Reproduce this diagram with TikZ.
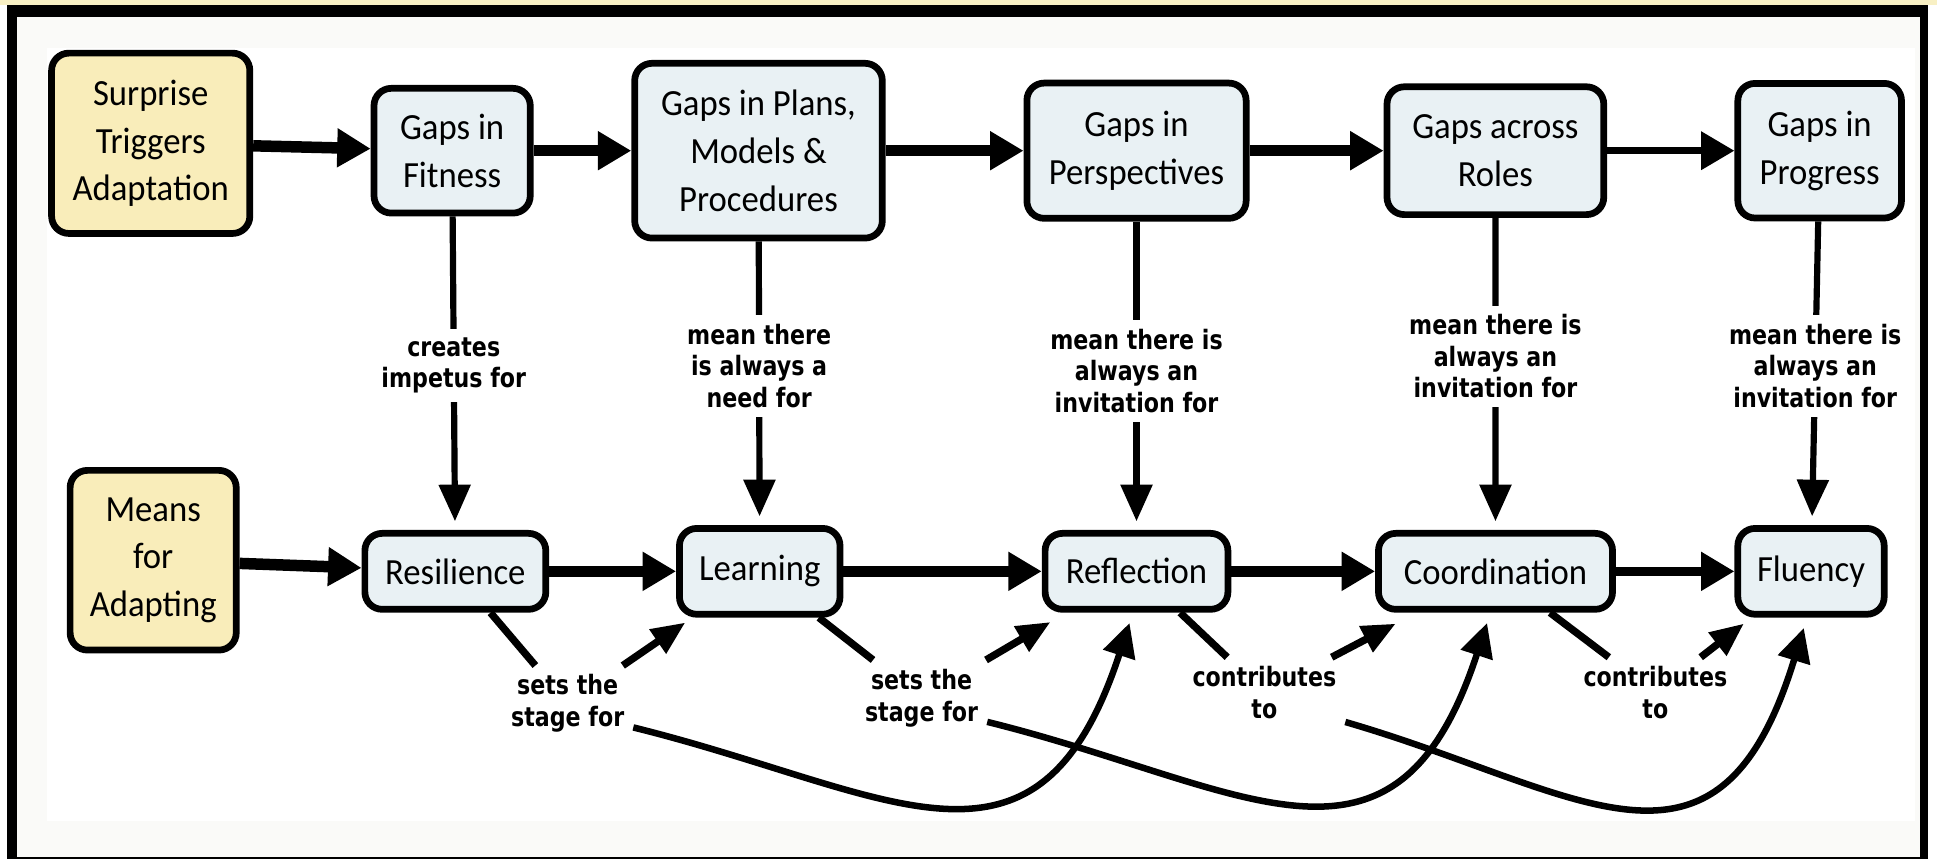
\documentclass[tikz,border=0pt]{standalone}
\usepackage{fontspec}
\setmainfont{Carlito}[FakeStretch=0.94]
\newfontfamily\labelfamily{DejaVu Sans}[FakeStretch=0.83]
\usetikzlibrary{arrows.meta}

\definecolor{boxyellow}{RGB}{249,237,186}
\definecolor{boxblue}{RGB}{233,241,244}
\definecolor{paper}{RGB}{250,250,248}
\definecolor{topstrip}{RGB}{248,240,196}

\begin{document}
\begin{tikzpicture}[x=0.02cm, y=-0.02cm,
  cbox/.style={draw=black, line width=3.1pt, rounded corners=0.28cm, fill=boxblue,
    align=center, inner sep=0pt, font=\fontsize{17}{22}\selectfont},
  srcbox/.style={cbox, fill=boxyellow},
  lab/.style={align=center, fill=white, inner sep=4pt,
    font=\labelfamily\bfseries\fontsize{12.3}{14.6}\selectfont},
  flow/.style={line width=5.3pt, -{Triangle[length=15.4pt,width=17pt]}},
  dropline/.style={line width=2.85pt, -{Triangle[length=16.9pt,width=14.2pt]}, shorten >=4pt},
  diag/.style={line width=3.4pt},
  diagarrow/.style={line width=3.4pt, -{Triangle[length=15.5pt,width=12.8pt]}},
  sweep/.style={line width=3pt, -{Triangle[length=15.5pt,width=14.9pt]}, shorten >=5pt},
]
% page and frame
\useasboundingbox (0,0) rectangle (1568,695);
\fill[white] (0,0) rectangle (1568,695);
\fill[topstrip] (0,0) rectangle (1568,4);
\fill[black] (6,4) rectangle (1561,695);
\fill[paper] (13.5,13.7) rectangle (1554.3,693.5);
\fill[white] (37.8,38.9) rectangle (1550,665);

% top row: sources of adaptation
\node[srcbox, minimum width=3.21cm, minimum height=2.92cm] (sta) at (122,116) {Surprise\\Triggers\\Adaptation};
\node[cbox, minimum width=2.53cm, minimum height=2.02cm] (gfit) at (366,122) {Gaps in\\Fitness};
\node[cbox, minimum width=4.01cm, minimum height=2.83cm] (gplan) at (614,122) {Gaps in Plans,\\Models \&\\Procedures};
\node[cbox, minimum width=3.55cm, minimum height=2.19cm] (gper) at (920,122) {Gaps in\\Perspectives};
\node[cbox, minimum width=3.51cm, minimum height=2.07cm] (grol) at (1210.5,122) {Gaps across\\Roles};
\node[cbox, minimum width=2.65cm, minimum height=2.18cm] (gpro) at (1473,122) {Gaps in\\Progress};

% bottom row: means for adapting
\node[srcbox, minimum width=2.69cm, minimum height=2.91cm] (mfa) at (124,453.5) {Means\\for\\Adapting};
\node[cbox, minimum width=2.93cm, minimum height=1.23cm] (res) at (368.6,462.5) {Resilience};
\node[cbox, minimum width=2.60cm, minimum height=1.39cm] (lea) at (615,462.5) {Learning};
\node[cbox, minimum width=2.96cm, minimum height=1.23cm] (ref) at (920,462.5) {Reflection};
\node[cbox, minimum width=3.79cm, minimum height=1.23cm] (coo) at (1210.6,462.5) {Coordination};
\node[cbox, minimum width=2.37cm, minimum height=1.39cm] (flu) at (1466,462.5) {Fluency};

% horizontal chains
\draw[flow] (sta) -- (gfit);
\draw[flow] (gfit) -- (gplan);
\draw[flow] (gplan) -- (gper);
\draw[flow] (gper) -- (grol);
\draw[flow, line width=3.4pt] (grol) -- (gpro);
\draw[flow] (mfa) -- (res);
\draw[flow] (res) -- (lea);
\draw[flow] (lea) -- (ref);
\draw[flow] (ref) -- (coo);
\draw[flow, line width=4.2pt] (coo) -- (flu);

% gaps feed the means
\draw[dropline] (gfit) -- node[lab, pos=0.475] (l1) {creates\\impetus for} (res);
\draw[dropline] (gplan) -- node[lab, pos=0.439] (l2) {mean there\\is always a\\need for} (lea);
\draw[dropline] (gper) -- node[lab, pos=0.484] (l3) {mean there is\\always an\\invitation for} (ref);
\draw[dropline] (grol) -- node[lab, pos=0.443] (l4) {mean there is\\always an\\invitation for} (coo);
\draw[dropline] (gpro) -- node[lab, pos=0.476] (l5) {mean there is\\always an\\invitation for} (flu);

% links between neighbouring means
\node[lab] (s1) at (459.5,569.5) {sets the\\stage for};
\node[lab] (s2) at (746,565) {sets the\\stage for};
\node[lab] (c1) at (1023.5,560.6) {contributes\\to};
\node[lab] (c2) at (1340,560.6) {contributes\\to};

\draw[diag] (res) -- (s1);
\draw[diagarrow, shorten >=4pt] (s1) -- (lea);
\draw[diag] (lea) -- (s2);
\draw[diagarrow, shorten >=8.5pt] (s2) -- (ref);
\draw[diag] (ref) -- (c1);
\draw[diagarrow, shorten >=10.9pt] (c1) -- (coo);
\draw[diag] (coo) -- (c2);
\draw[diagarrow, shorten >=4.5pt] (c2) -- (flu);

% long sweeps to the next-but-one means
\draw[sweep] (s1.-20) .. controls +(208.7,51.6) and +(-77.3,236.7) .. (ref.265);
\draw[sweep] (s2.-20) .. controls +(208.7,51.6) and +(-77.3,236.7) .. (coo.263);
\draw[sweep] (c1.-20) .. controls +(190,55) and +(-72,236) .. (flu.265);
\end{tikzpicture}
\end{document}
